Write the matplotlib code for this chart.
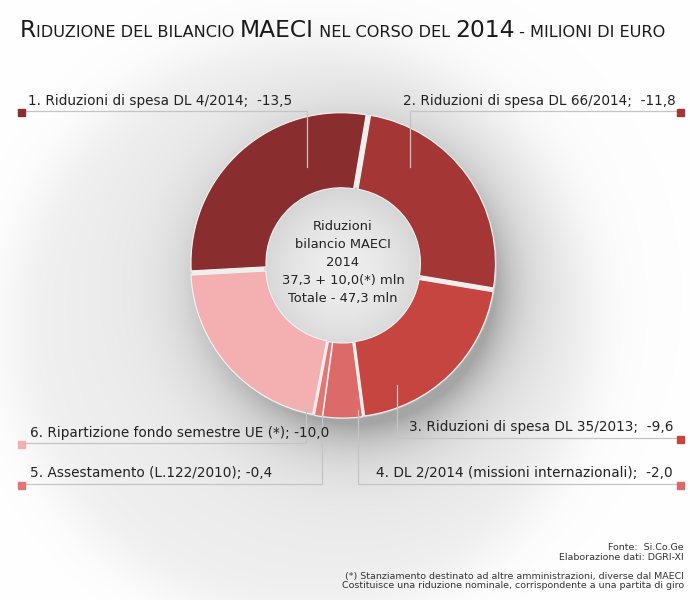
import matplotlib
matplotlib.use('Agg')
import matplotlib.pyplot as plt
from matplotlib.patches import Circle, Rectangle
import numpy as np

# ------------------------------------------------------------
# data
# ------------------------------------------------------------
labels = [
    '1. Riduzioni di spesa DL 4/2014;  -13,5',
    '2. Riduzioni di spesa DL 66/2014;  -11,8',
    '3. Riduzioni di spesa DL 35/2013;  -9,6',
    '4. DL 2/2014 (missioni internazionali);  -2,0',
    '5. Assestamento (L.122/2010); -0,4',
    '6. Ripartizione fondo semestre UE (*); -10,0',
]
values = [13.5, 11.8, 9.6, 2.0, 0.4, 10.0]
colors = ['#8a2d2e', '#a53636', '#c74541', '#db6a68', '#e27876', '#f4b0b0']

center_lines = ['Riduzioni', 'bilancio MAECI', '2014',
                '37,3 + 10,0(*) mln', 'Totale - 47,3 mln']
footer = ['Fonte:  Si.Co.Ge', 'Elaborazione dati: DGRI-XI', '',
          '(*) Stanziamento destinato ad altre amministrazioni, diverse dal MAECI',
          'Costituisce una riduzione nominale, corrispondente a una partita di giro']

W, H = 700, 600
CX, CY = 343, 265          # donut centre, pixels from top-left
R_OUT, R_IN = 150, 75
TEXT = '#222222'
LINE = '#c4c4c4'

plt.rcParams['font.family'] = ['DejaVu Sans']


def Y(y):
    return H - y


fig = plt.figure(figsize=(7, 6), dpi=100, facecolor='white')
ax = fig.add_axes([0, 0, 1, 1])

# soft shadow behind the donut + large pale halo
yy, xx = np.mgrid[0:H, 0:W]
r_d = np.hypot(xx - CX, yy - CY)
outside = np.clip((r_d - R_OUT - 1) / 3, 0, 1)
r_sh = np.hypot(xx - 356, yy - 286)
d = np.clip(r_sh - 138, 0, None)
shade = 0.24 * np.exp(-d / 26)
r_low = np.hypot(xx - (CX + 5), yy - (CY + 25))
shade += 0.05 * np.exp(-np.clip(r_low - R_OUT, 0, None) / 70)
r_halo = np.hypot(xx - 300, yy - 330)
halo = 0.06 / (1 + np.exp((r_halo - 290) / 15))
shade = shade * outside + halo
grey = np.clip(1 - shade, 0, 1)
ax.imshow(np.dstack([grey] * 3), extent=(0, W, 0, H), origin='upper', zorder=0)

# hole with radial gradient (drawn under the ring)
hole = Circle((CX, Y(CY)), R_IN + 4, transform=ax.transData)
hr = np.hypot(xx - CX, yy - (CY + 5)) / R_IN
hg = np.clip(0.93 - 0.08 * hr ** 2, 0, 1)
im = ax.imshow(np.dstack([hg] * 3), extent=(0, W, 0, H), origin='upper', zorder=0.5)
im.set_clip_path(hole)

# donut
ax.pie(values, colors=colors, startangle=183.1, counterclock=False,
       radius=R_OUT, center=(CX, Y(CY)), explode=[3] * len(values),
       wedgeprops=dict(width=R_OUT - R_IN, edgecolor='#f2f2f2', linewidth=0.8))

for i, line in enumerate(center_lines):
    ax.text(CX, Y(227 + i * 17.8), line, ha='center', va='center',
            fontsize=9.4, color=TEXT, zorder=5)

# leader lines: (text x, text y, ha, path)
leaders = [
    (28, 108, 'left', [(22, 111), (307, 111), (307, 167)]),
    (676, 108, 'right', [(681, 111), (410, 111), (410, 167)]),
    (673, 434, 'right', [(681, 438), (397, 438), (397, 385)]),
    (673, 480, 'right', [(681, 484), (358, 484), (358, 410)]),
    (30, 480, 'left', [(22, 484), (322, 484), (322, 416)]),
    (30, 440, 'left', [(22, 443), (306, 443), (306, 402)]),
]
for (tx, ty, ha, path), lab, col in zip(leaders, labels, colors):
    px = [p[0] for p in path]
    py = [Y(p[1]) for p in path]
    ax.plot(px, py, color=LINE, lw=0.9, zorder=4)
    sx, sy = path[0]
    ax.add_patch(Rectangle((sx - 4, Y(sy + 5)), 7, 7, color=col, zorder=5))
    ax.text(tx, Y(ty), lab, ha=ha, va='bottom', fontsize=9.8, color=TEXT, zorder=5)

for i, line in enumerate(footer):
    ax.text(684, Y(548 + i * 9.5), line, ha='right', va='center',
            fontsize=6.8, color='#333333', zorder=5)

ax.set_xlim(0, W)
ax.set_ylim(0, H)
ax.set_aspect('equal')
ax.axis('off')

# title in small caps, placed piece by piece
pieces = [('R', 16.8), ('IDUZIONE DEL BILANCIO ', 11.6), ('MAECI', 16.8),
          (' NEL CORSO DEL ', 11.6), ('2014', 16.8), (' - MILIONI DI EURO', 11.6)]
renderer = fig.canvas.get_renderer()
x = 20
for txt, fs in pieces:
    t = ax.text(x, Y(37), txt, ha='left', va='baseline', fontsize=fs,
                color='#1a1a1a', zorder=5)
    x += t.get_window_extent(renderer).width

fig.savefig('out.png', dpi=100, facecolor='white')
